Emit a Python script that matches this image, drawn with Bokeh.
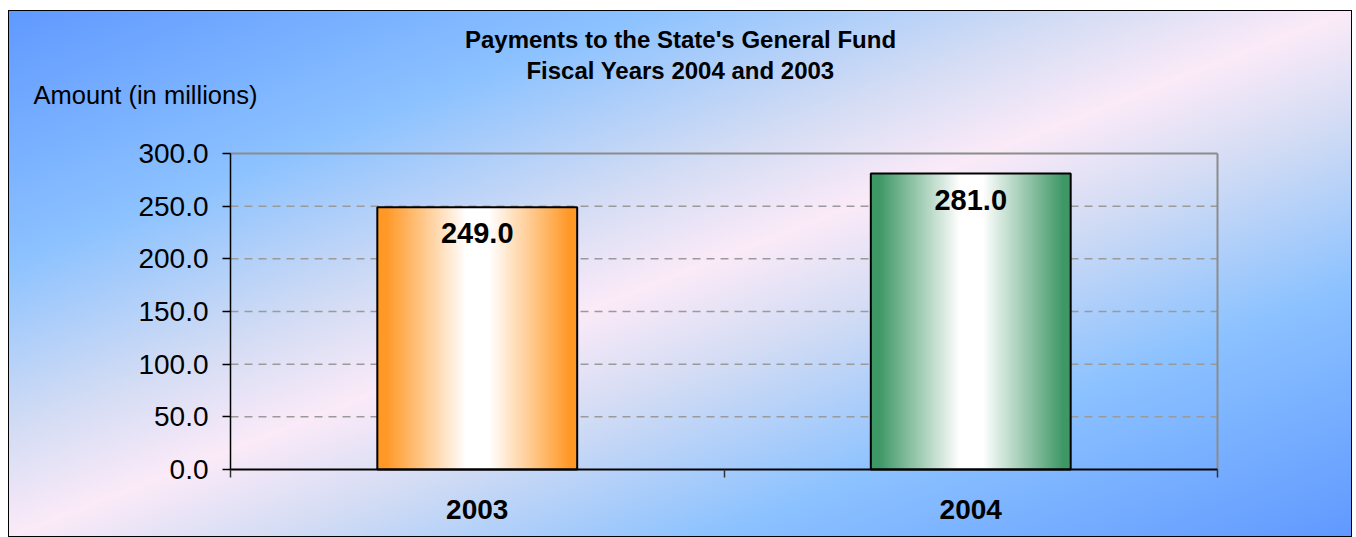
import numpy as np
from bokeh.plotting import figure
from bokeh.models import (Range1d, FixedTicker, NumeralTickFormatter, ColumnDataSource, LabelSet)
from bokeh.core.properties import value
from bokeh.embed import file_html
from bokeh.resources import INLINE

# ---- data ----
categories = ["2003", "2004"]
amounts = [249.0, 281.0]
bar_edge_colors = [(255, 152, 36), (62, 152, 102)]
title_lines = ["Payments to the State's General Fund", "Fiscal Years 2004 and 2003"]
y_title = "Amount (in millions)"
y_ticks = [0, 50, 100, 150, 200, 250, 300]

FONT = "Liberation Sans"
W, H = 1344, 527
# plot-area pixel box inside the canvas
PX_L, PX_R, PX_T, PX_B = 222, 1209, 143, 459

n = len(categories)
ymin, ymax = y_ticks[0], y_ticks[-1]
sx = n / (PX_R - PX_L)
sy = (ymax - ymin) / (PX_B - PX_T)
x_range = Range1d(-PX_L * sx, n + (W - PX_R) * sx)
y_range = Range1d(ymin - (H - PX_B) * sy, ymax + PX_T * sy)

def dx(px):  # canvas px -> data x
    return (px - PX_L) * sx

def dy(py):  # canvas px (downward) -> data y
    return (PX_B - py) * sy + ymin

xs = [i + 0.5 for i in range(n)]
bar_w = 0.405

p = figure(width=W, height=H, output_backend="svg", toolbar_location=None, title=None,
           x_range=x_range, y_range=y_range,
           min_border=0, min_border_left=0, min_border_right=0,
           min_border_top=0, min_border_bottom=0)
p.margin = (10, 0, 0, 8)
p.border_fill_color = None
p.background_fill_color = None
p.outline_line_color = None
p.styles = {
    "background-image": "linear-gradient(to bottom right, #6099ff 0%, #8cc2ff 24%, #d3dcf4 40%, #fbeaf8 50%, #d3dcf4 60%, #8cc2ff 76%, #6099ff 100%)",
    "outline": "1px solid #000",
    "outline-offset": "-1px",
}

# grid lines (dashed) across the plot area only
p.xgrid.grid_line_color = None
p.ygrid.grid_line_color = None
p.segment(x0=[0] * (len(y_ticks) - 2), x1=[n] * (len(y_ticks) - 2),
          y0=y_ticks[1:-1], y1=y_ticks[1:-1],
          line_color="#9a9a9a", line_dash="8 6", line_width=1.5)
# plot-area top and right borders
p.segment(x0=[0, n], y0=[ymax, ymin], x1=[n, n], y1=[ymax, ymax],
          line_color="#8c8c8c", line_width=2)

# bar gradient fills (style only)
N = 200
u = (np.arange(N) + 0.5) / N
t = np.abs(u - 0.5) * 2
s = np.clip((t - 0.12) / 0.8, 0, 1)
imgs = []
for (r, g, b) in bar_edge_colors:
    img = np.empty((1, N), dtype=np.uint32)
    v = img.view(dtype=np.uint8).reshape((1, N, 4))
    v[0, :, 0] = (255 + (r - 255) * s).astype(np.uint8)
    v[0, :, 1] = (255 + (g - 255) * s).astype(np.uint8)
    v[0, :, 2] = (255 + (b - 255) * s).astype(np.uint8)
    v[0, :, 3] = 255
    imgs.append(img)

p.image_rgba(image=imgs, x=[x - bar_w / 2 for x in xs], y=[0] * n,
             dw=[bar_w] * n, dh=amounts)
p.vbar(x=xs, top=amounts, width=bar_w, fill_color=None, line_color="black", line_width=2)

src = ColumnDataSource(dict(x=xs, y=amounts, text=[f"{a:.1f}" for a in amounts]))
p.add_layout(LabelSet(x="x", y="y", text="text", source=src, y_offset=-16,
                      text_align="center", text_baseline="top",
                      text_font=value(FONT), text_font_size="29px",
                      text_font_style="bold", text_color="black"))

# y axis
p.yaxis.fixed_location = 0
p.yaxis.bounds = (ymin, ymax)
p.yaxis.ticker = FixedTicker(ticks=y_ticks)
p.yaxis.formatter = NumeralTickFormatter(format="0.0")
p.yaxis.major_label_text_font = FONT
p.yaxis.major_label_text_font_size = "28px"
p.yaxis.major_label_text_color = "black"
p.yaxis.axis_line_color = "black"
p.yaxis.axis_line_width = 1.5
p.yaxis.major_tick_line_color = "black"
p.yaxis.major_tick_line_width = 1.5
p.yaxis.major_tick_out = 8
p.yaxis.major_tick_in = 0
p.yaxis.minor_tick_line_color = None
p.yaxis.major_label_standoff = 14

# x axis
p.xaxis.fixed_location = 0
p.xaxis.bounds = (0, n)
p.xaxis.ticker = FixedTicker(ticks=xs, minor_ticks=list(range(n + 1)))
p.xaxis.major_label_overrides = {x: c for x, c in zip(xs, categories)}
p.xaxis.major_label_text_font = FONT
p.xaxis.major_label_text_font_size = "28px"
p.xaxis.major_label_text_font_style = "bold"
p.xaxis.major_label_text_color = "black"
p.xaxis.axis_line_color = "black"
p.xaxis.axis_line_width = 2
p.xaxis.major_tick_line_color = None
p.xaxis.major_tick_out = 0
p.xaxis.major_tick_in = 0
p.xaxis.minor_tick_line_color = "#333333"
p.xaxis.minor_tick_line_width = 1.5
p.xaxis.minor_tick_out = 8
p.xaxis.minor_tick_in = 0
p.xaxis.major_label_standoff = 22

# titles and axis title (placed in data space so they are not clipped)
tsrc = ColumnDataSource(dict(x=[dx(672)] * 2, y=[dy(37), dy(68)], text=title_lines))
p.add_layout(LabelSet(x="x", y="y", text="text", source=tsrc,
                      text_align="center", text_baseline="alphabetic",
                      text_font=value(FONT), text_font_size="24px",
                      text_font_style="bold", text_color="black"))
asrc = ColumnDataSource(dict(x=[dx(25)], y=[dy(93)], text=[y_title]))
p.add_layout(LabelSet(x="x", y="y", text="text", source=asrc,
                      text_align="left", text_baseline="alphabetic",
                      text_font=value(FONT), text_font_size="25.5px", text_color="black"))

open("out.html", "w").write(file_html(p, INLINE))
